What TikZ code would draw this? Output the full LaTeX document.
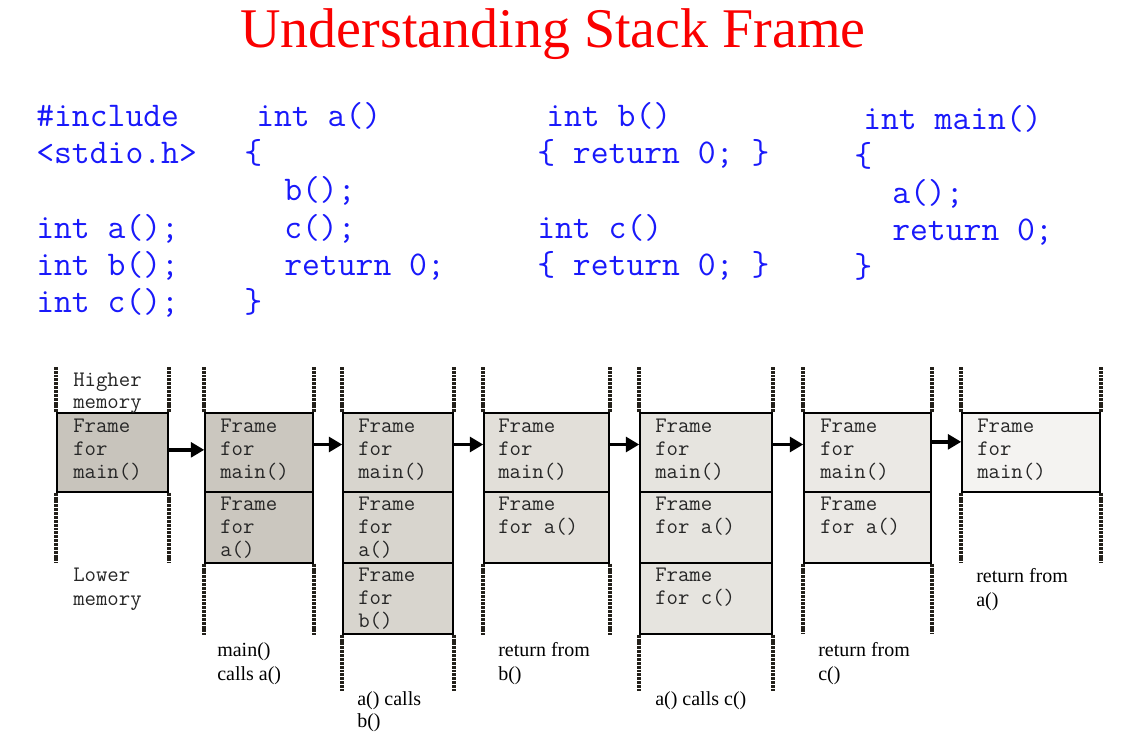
\documentclass[tikz,border=0pt]{standalone}
\usepackage{fontspec}
\setmainfont{Liberation Serif}
\usetikzlibrary{fit,arrows.meta}
\definecolor{codeblue}{RGB}{25,25,250}
\definecolor{titlered}{RGB}{250,0,0}
\definecolor{dotcol}{RGB}{35,32,26}
\definecolor{fa}{RGB}{200,196,188}
\definecolor{fb}{RGB}{203,199,191}
\definecolor{fc}{RGB}{216,213,206}
\definecolor{fd}{RGB}{226,223,217}
\definecolor{fe}{RGB}{230,228,223}
\definecolor{ff}{RGB}{235,233,229}
\definecolor{fg}{RGB}{244,243,241}
\begin{document}
\begin{tikzpicture}[x=0.75pt,y=-0.75pt,
  title/.style={anchor=base, inner sep=0, font=\fontsize{42}{48}\selectfont, text=titlered},
  code/.style={anchor=base west, inner sep=0, font=\ttfamily\fontsize{26}{30}\selectfont, text=codeblue},
  ftxt/.style={anchor=base west, inner sep=0, font=\ttfamily\fontsize{16.6}{19}\selectfont, text=black!85},
  lbl/.style={anchor=base west, inner sep=0, font=\fontsize{15}{18}\selectfont},
  fbox/.style={draw=black, line width=1.1pt, inner sep=0},
  dots/.style={draw=dotcol, line width=2.8pt, dash pattern=on 2.2pt off 0.7pt},
  arr/.style={-{Triangle[length=10pt,width=11pt]}, line width=2.8pt}]
\useasboundingbox (0,0) rectangle (1128,732);

% title
\node[title] (title) at (553,47) {Understanding Stack Frame};

% code column 1
\node[code] (k11) at (36,126) {\#include};
\node[code] (k12) at (36,163) {<stdio.h>};
\node[code] (k13) at (36,238) {int a();};
\node[code] (k14) at (36,275) {int b();};
\node[code] (k15) at (36,312) {int c();};
% code column 2
\node[code] (k21) at (256,126) {int a()};
\node[code] (k22) at (244,163) {\{};
\node[code] (k23) at (284,200) {b();};
\node[code] (k24) at (284,238) {c();};
\node[code] (k25) at (284,275) {return 0;};
\node[code] (k26) at (244,312) {\}};
% code column 3
\node[code] (k31) at (546,126) {int b()};
\node[code] (k32) at (537,163) {\{ return 0; \}};
\node[code] (k33) at (537,238) {int c()};
\node[code] (k34) at (537,275) {\{ return 0; \}};
% code column 4
\node[code] (k41) at (863,129) {int main()};
\node[code] (k42) at (854,166) {\{};
\node[code] (k43) at (892,203) {a();};
\node[code] (k44) at (892,240) {return 0;};
\node[code] (k45) at (854,277) {\}};

% stack boxes
\node[fbox, fill=fa, fit={(57,413) (168,492)}] (m1) {};

\node[fbox, fill=fb, fit={(205,413) (313,492)}] (m2) {};
\node[fbox, fill=fb, fit={(205,492) (313,563)}] (a2) {};

\node[fbox, fill=fc, fit={(343,413) (453,492)}] (m3) {};
\node[fbox, fill=fc, fit={(343,492) (453,563)}] (a3) {};
\node[fbox, fill=fc, fit={(343,563) (453,634)}] (b3) {};

\node[fbox, fill=fd, fit={(484,413) (609,492)}] (m4) {};
\node[fbox, fill=fd, fit={(484,492) (609,563)}] (a4) {};

\node[fbox, fill=fe, fit={(640,413) (772,492)}] (m5) {};
\node[fbox, fill=fe, fit={(640,492) (772,563)}] (a5) {};
\node[fbox, fill=fe, fit={(640,563) (772,634)}] (c5) {};

\node[fbox, fill=ff, fit={(804,413) (931,492)}] (m6) {};
\node[fbox, fill=ff, fit={(804,492) (931,563)}] (a6) {};

\node[fbox, fill=fg, fit={(962,413) (1100,492)}] (m7) {};

% dotted walls above
\foreach \n in {m1,m2,m3,m4,m5,m6,m7}{
  \draw[dots] (\n.north west) -- ++(0,-45);
  \draw[dots] (\n.north east) -- ++(0,-45);
}
% dotted walls below
\draw[dots] (m1.south west) -- ++(0,70);
\draw[dots] (m1.south east) -- ++(0,70);
\draw[dots] (a2.south west) -- ++(0,71);
\draw[dots] (a2.south east) -- ++(0,71);
\draw[dots] (b3.south west) -- ++(0,56);
\draw[dots] (b3.south east) -- ++(0,56);
\draw[dots] (a4.south west) -- ++(0,71);
\draw[dots] (a4.south east) -- ++(0,71);
\draw[dots] (c5.south west) -- ++(0,56);
\draw[dots] (c5.south east) -- ++(0,56);
\draw[dots] (a6.south west) -- ++(0,70);
\draw[dots] (a6.south east) -- ++(0,70);
\draw[dots] (m7.south west) -- ++(0,70);
\draw[dots] (m7.south east) -- ++(0,70);

% arrows
\draw[arr] ([yshift=2pt]m1.east) -- ([yshift=2pt]m2.west);
\draw[arr] ([yshift=6pt]m2.east) -- ([yshift=6pt]m3.west);
\draw[arr] ([yshift=6pt]m3.east) -- ([yshift=6pt]m4.west);
\draw[arr] ([yshift=6pt]m4.east) -- ([yshift=6pt]m5.west);
\draw[arr] ([yshift=6pt]m5.east) -- ([yshift=6pt]m6.west);
\draw[arr] ([yshift=8pt]m6.east) -- ([yshift=8pt]m7.west);

% memory labels
\node[ftxt] (hi1) at (73,386) {Higher};
\node[ftxt] (hi2) at (73,408) {memory};
\node[ftxt] (lo1) at (73,581) {Lower};
\node[ftxt] (lo2) at (73,605) {memory};

% column 1 text
\node[ftxt] (t11) at (73,432) {Frame};
\node[ftxt] (t12) at (73,455) {for};
\node[ftxt] (t13) at (73,478) {main()};
% column 2 text
\node[ftxt] (t21) at (220,432) {Frame};
\node[ftxt] (t22) at (220,455) {for};
\node[ftxt] (t23) at (220,478) {main()};
\node[ftxt] (t24) at (220,510) {Frame};
\node[ftxt] (t25) at (220,533) {for};
\node[ftxt] (t26) at (220,556) {a()};
% column 3 text
\node[ftxt] (t31) at (358,432) {Frame};
\node[ftxt] (t32) at (358,455) {for};
\node[ftxt] (t33) at (358,478) {main()};
\node[ftxt] (t34) at (358,510) {Frame};
\node[ftxt] (t35) at (358,533) {for};
\node[ftxt] (t36) at (358,556) {a()};
\node[ftxt] (t37) at (358,581) {Frame};
\node[ftxt] (t38) at (358,604) {for};
\node[ftxt] (t39) at (358,627) {b()};
% column 4 text
\node[ftxt] (t41) at (498,432) {Frame};
\node[ftxt] (t42) at (498,455) {for};
\node[ftxt] (t43) at (498,478) {main()};
\node[ftxt] (t44) at (498,510) {Frame};
\node[ftxt] (t45) at (498,533) {for a()};
% column 5 text
\node[ftxt] (t51) at (655,432) {Frame};
\node[ftxt] (t52) at (655,455) {for};
\node[ftxt] (t53) at (655,478) {main()};
\node[ftxt] (t54) at (655,510) {Frame};
\node[ftxt] (t55) at (655,533) {for a()};
\node[ftxt] (t56) at (655,581) {Frame};
\node[ftxt] (t57) at (655,604) {for c()};
% column 6 text
\node[ftxt] (t61) at (820,432) {Frame};
\node[ftxt] (t62) at (820,455) {for};
\node[ftxt] (t63) at (820,478) {main()};
\node[ftxt] (t64) at (820,510) {Frame};
\node[ftxt] (t65) at (820,533) {for a()};
% column 7 text
\node[ftxt] (t71) at (977,432) {Frame};
\node[ftxt] (t72) at (977,455) {for};
\node[ftxt] (t73) at (977,478) {main()};

% step labels
\node[lbl] (l21) at (217,656) {main()};
\node[lbl] (l22) at (217,680) {calls a()};
\node[lbl] (l31) at (357,705) {a() calls};
\node[lbl] (l32) at (357,727) {b()};
\node[lbl] (l41) at (498,656) {return from};
\node[lbl] (l42) at (498,680) {b()};
\node[lbl] (l51) at (655,705) {a() calls c()};
\node[lbl] (l61) at (818,656) {return from};
\node[lbl] (l62) at (818,680) {c()};
\node[lbl] (l71) at (976,582) {return from};
\node[lbl] (l72) at (976,606) {a()};
\end{tikzpicture}
\end{document}
